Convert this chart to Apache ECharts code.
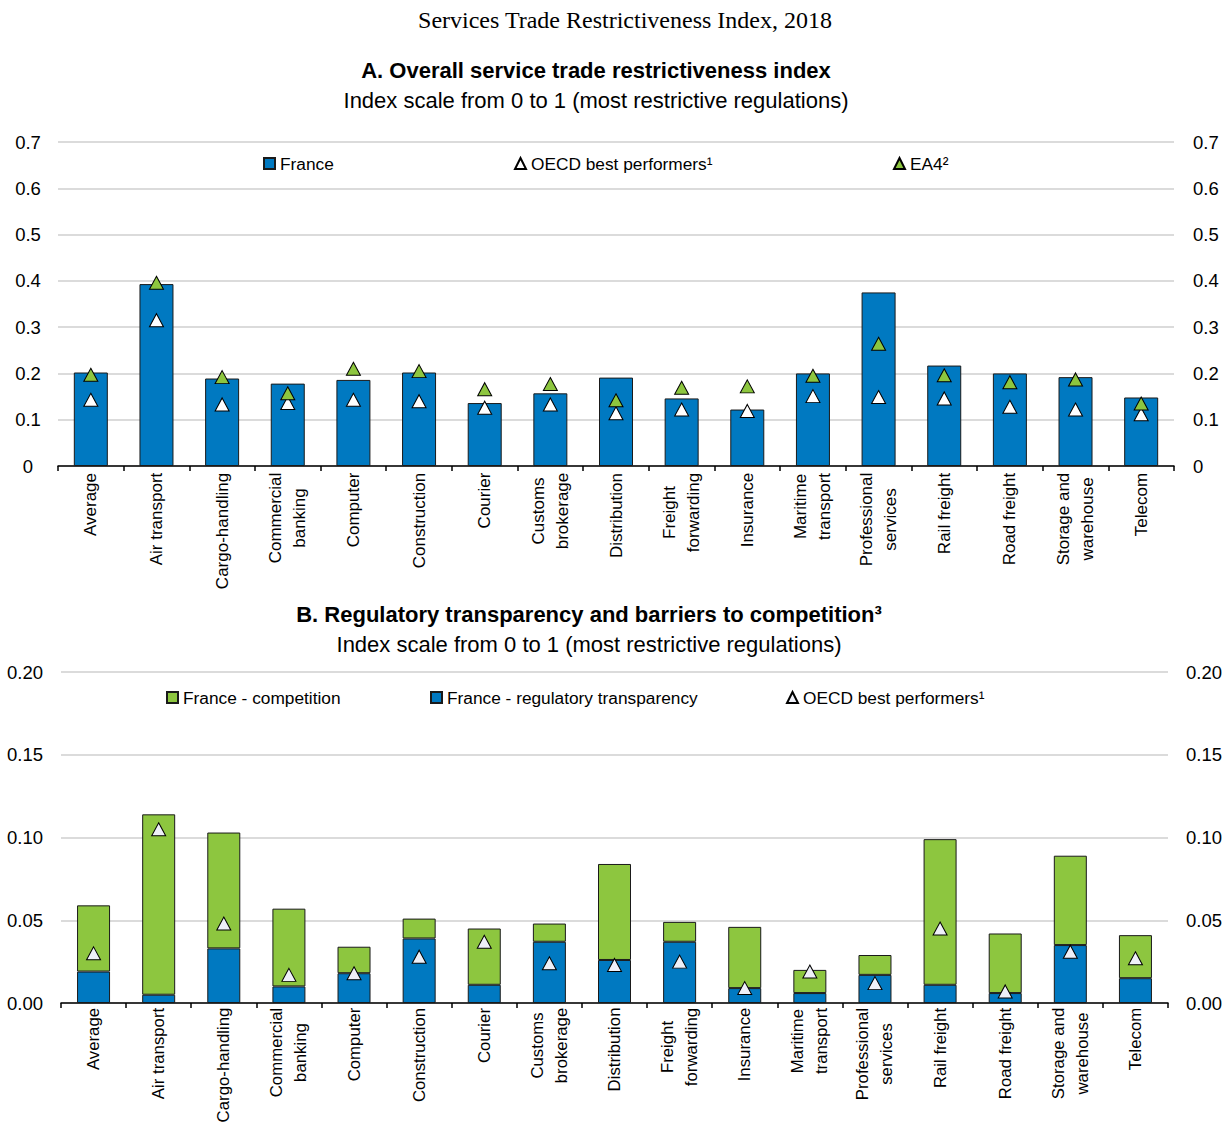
<!DOCTYPE html>
<html>
<head>
<meta charset="utf-8">
<script src="https://cdn.jsdelivr.net/npm/echarts@6/dist/echarts.min.js"></script>
<style>
html,body{margin:0;padding:0;background:#fff;}
#chart{width:1226px;height:1124px;}
</style>
</head>
<body>
<div id="chart"></div>
<script>
// ---- Data ----
const categories = ['Average','Air transport','Cargo-handling','Commercial\nbanking','Computer','Construction','Courier','Customs\nbrokerage','Distribution','Freight\nforwarding','Insurance','Maritime\ntransport','Professional\nservices','Rail freight','Road freight','Storage and\nwarehouse','Telecom'];

// Panel A
const franceA = [0.202,0.393,0.189,0.178,0.186,0.202,0.136,0.157,0.191,0.146,0.122,0.200,0.375,0.217,0.200,0.192,0.148];
const oecdA   = [0.143,0.315,0.133,0.136,0.143,0.140,0.126,0.133,0.114,0.122,0.119,0.151,0.149,0.146,0.128,0.122,0.112];
const ea4A    = [0.197,0.396,0.192,0.157,0.210,0.205,0.166,0.177,0.142,0.169,0.172,0.195,0.264,0.196,0.181,0.187,0.135];

// Panel B
const regTranspB = [0.019,0.005,0.033,0.010,0.018,0.039,0.011,0.037,0.026,0.037,0.009,0.006,0.017,0.011,0.006,0.035,0.015];
const competitionB = [0.040,0.109,0.070,0.047,0.016,0.012,0.034,0.011,0.058,0.012,0.037,0.014,0.012,0.088,0.036,0.054,0.026];
const oecdB = [0.030,0.105,0.048,0.017,0.018,0.028,0.037,0.024,0.023,0.025,0.009,0.019,0.012,0.045,0.007,0.031,0.027];

const yTicksA = {min:0, max:0.7, interval:0.1};
const yTicksB = {min:0, max:0.2, interval:0.05};

// ---- Styles ----
const NARROW = '"Liberation Sans Narrow","Arial Narrow","Liberation Sans",sans-serif';
const SANS = '"Liberation Sans",Arial,sans-serif';
const SERIF = '"Liberation Serif","Times New Roman",serif';
const BLUE = '#0079c1';
const GREEN = '#8dc63f';
const EDGE = '#1a1a1a';

// rich styles so multi-line category labels are centred line by line
function buildRich(fontSize) {
  const ctx = document.createElement('canvas').getContext('2d');
  ctx.font = fontSize + 'px "Liberation Sans"';
  const rich = {};
  categories.forEach((c, i) => {
    const w = Math.max(...c.split('\n').map(l => ctx.measureText(l).width));
    rich['c' + i] = {width: Math.ceil(w) + 1, align: 'center', fontSize, fontFamily: SANS, lineHeight: 24, color: '#000'};
  });
  return rich;
}

function xAxisFor(gridIndex, fontSize, margin) {
  return {
    type: 'category', gridIndex, data: categories,
    axisLine: {lineStyle: {color: '#000', width: 1.5}},
    axisTick: {show: true, length: 5, lineStyle: {color: '#000', width: 1.5}},
    axisLabel: {
      rotate: 90, margin, interval: 0,
      formatter: (v, i) => v.split('\n').map(l => '{c' + i + '|' + l + '}').join('\n'),
      rich: buildRich(fontSize)
    }
  };
}
function yAxisFor(gridIndex, ticks, pos, opts) {
  return Object.assign({
    type: 'value', gridIndex, position: pos,
    min: ticks.min, max: ticks.max, interval: ticks.interval,
    axisLine: {show: false}, axisTick: {show: false},
    splitLine: {show: pos === 'left', lineStyle: {color: '#cfcfcf', width: 1.5}},
  }, opts);
}
function legendAt(name, icon, left, top) {
  return {data: [{name, icon}], left, top, padding: 0, itemWidth: 11, itemHeight: 11,
          textStyle: {fontSize: 17.3, fontFamily: NARROW, color: '#000'}, selectedMode: false};
}

const chart = echarts.init(document.getElementById('chart'), null, {renderer: 'svg'});
chart.setOption({
  animation: false,
  backgroundColor: '#fff',
  textStyle: {fontFamily: NARROW, color: '#000'},
  graphic: [
    {type: 'text', x: 625, y: 20, style: {text: 'Services Trade Restrictiveness Index, 2018', font: '24px ' + SERIF, fill: '#000', textAlign: 'center', textVerticalAlign: 'middle'}},
    {type: 'text', x: 596, y: 70, style: {text: 'A. Overall service trade restrictiveness index', font: 'bold 22px ' + NARROW, fill: '#000', textAlign: 'center', textVerticalAlign: 'middle'}},
    {type: 'text', x: 596, y: 100, style: {text: 'Index scale from 0 to 1 (most restrictive regulations)', font: '22px ' + NARROW, fill: '#000', textAlign: 'center', textVerticalAlign: 'middle'}},
    {type: 'text', x: 589, y: 614, style: {text: 'B. Regulatory transparency and barriers to competition³', font: 'bold 22px ' + NARROW, fill: '#000', textAlign: 'center', textVerticalAlign: 'middle'}},
    {type: 'text', x: 589, y: 644, style: {text: 'Index scale from 0 to 1 (most restrictive regulations)', font: '22px ' + NARROW, fill: '#000', textAlign: 'center', textVerticalAlign: 'middle'}}
  ],
  legend: [
    legendAt('France', 'rect', 263, 155),
    legendAt('OECD best performers¹', 'triangle', 514, 155),
    legendAt('EA4²', 'triangle', 893, 155),
    legendAt('France - competition', 'rect', 166, 689),
    legendAt('France - regulatory transparency', 'rect', 430, 689),
    legendAt('OECD best performers¹ ', 'triangle', 786, 689)
  ],
  grid: [
    {left: 58, right: 52, top: 142, height: 324, containLabel: false, outerBoundsMode: 'none'},
    {left: 61, right: 58, top: 672, height: 331, containLabel: false, outerBoundsMode: 'none'}
  ],
  xAxis: [xAxisFor(0, 17, 6), xAxisFor(1, 16.8, 4)],
  yAxis: [
    yAxisFor(0, yTicksA, 'left', {axisLabel: {fontSize: 18.5, fontFamily: NARROW, color: '#000', align: 'center', margin: 30}}),
    yAxisFor(0, yTicksA, 'right', {axisLabel: {fontSize: 18.5, fontFamily: NARROW, color: '#000', align: 'left', margin: 19}}),
    yAxisFor(1, yTicksB, 'left', {axisLabel: {fontSize: 18.5, fontFamily: NARROW, color: '#000', margin: 18, formatter: v => v.toFixed(2)}}),
    yAxisFor(1, yTicksB, 'right', {axisLabel: {fontSize: 18.5, fontFamily: NARROW, color: '#000', margin: 18, formatter: v => v.toFixed(2)}})
  ],
  series: [
    {name: 'France', type: 'bar', xAxisIndex: 0, yAxisIndex: 0, data: franceA, barWidth: 34,
     itemStyle: {color: BLUE, borderColor: EDGE, borderWidth: 1}},
    {name: 'OECD best performers¹', type: 'scatter', xAxisIndex: 0, yAxisIndex: 0, data: oecdA, symbol: 'triangle', symbolSize: [14, 13],
     itemStyle: {color: '#ffffff', borderColor: '#000', borderWidth: 1, opacity: 1}},
    {name: 'EA4²', type: 'scatter', xAxisIndex: 0, yAxisIndex: 0, data: ea4A, symbol: 'triangle', symbolSize: [14, 13],
     itemStyle: {color: GREEN, borderColor: '#000', borderWidth: 1, opacity: 1}},
    {name: 'France - regulatory transparency', type: 'bar', xAxisIndex: 1, yAxisIndex: 2, stack: 'b', data: regTranspB, barWidth: 33,
     itemStyle: {color: BLUE, borderColor: EDGE, borderWidth: 1}},
    {name: 'France - competition', type: 'bar', xAxisIndex: 1, yAxisIndex: 2, stack: 'b', data: competitionB, barWidth: 33,
     itemStyle: {color: GREEN, borderColor: EDGE, borderWidth: 1}},
    {name: 'OECD best performers¹ ', type: 'scatter', xAxisIndex: 1, yAxisIndex: 2, data: oecdB, symbol: 'triangle', symbolSize: [14, 13],
     itemStyle: {color: '#eef0f8', borderColor: '#000', borderWidth: 1, opacity: 1}}
  ]
});
</script>
</body>
</html>
